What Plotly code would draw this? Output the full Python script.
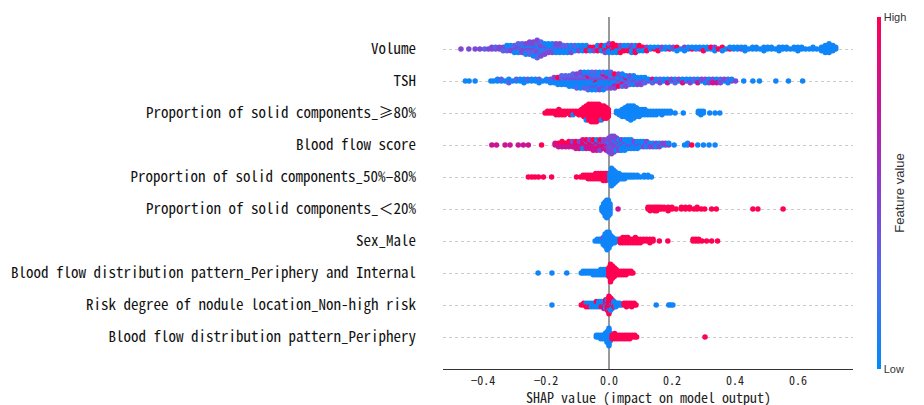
import math
import plotly.graph_objects as go

# ---------------- data ----------------
features = [
    "Volume",
    "TSH",
    "Proportion of solid components_≥80%",
    "Blood flow score",
    "Proportion of solid components_50%–80%",
    "Proportion of solid components_＜20%",
    "Sex_Male",
    "Blood flow distribution pattern_Periphery and Internal",
    "Risk degree of nodule location_Non-high risk",
    "Blood flow distribution pattern_Periphery",
]
x_title = "SHAP value (impact on model output)"

# feature-value code of each point: b=low ... r=high
code_fv = {"b": 0.05, "v": 0.3, "p": 0.45, "m": 0.78, "r": 1.0}

volume_x = [-0.470, -0.445, -0.425, -0.410, -0.395, -0.383, -0.372, -0.360, -0.348, -0.336,
            -0.324, -0.312, -0.300, -0.288, -0.276, -0.264, -0.252, -0.240, -0.228, -0.216,
            -0.204, -0.192, -0.180, -0.168, -0.156, -0.144, -0.132, -0.120, -0.108, -0.096,
            -0.084, -0.072, -0.060, -0.048, -0.036, -0.024, -0.012, 0.000, 0.012, 0.024,
            0.036, 0.048, 0.060, 0.072, 0.084, 0.096, 0.108, 0.120, 0.132, 0.144,
            0.156, 0.168, 0.180, 0.192, 0.204, 0.216, 0.228, 0.240, 0.252, 0.264,
            0.276, 0.288, 0.300, 0.312, 0.324, 0.336, 0.348, 0.360, 0.372, 0.384,
            0.396, 0.408, 0.420, 0.432, 0.444, 0.456, 0.468, 0.480, 0.492, 0.504,
            0.516, 0.528, 0.540, 0.552, 0.564, 0.576, 0.588, 0.600, 0.612, 0.624,
            0.636, 0.648, 0.660, 0.675, 0.687, 0.699, 0.711, 0.720]
volume_pts = ["p", "p", "p", "p", "v", "p", "pp", "pv", "pp", "ppv",
              "ppvb", "pvpb", "pvpvb", "ppvpbv", "pvpbpv", "pvpbvpb",
              "pvpbvpvp", "pvpbvpvpb", "ppvbpvpvbpv", "pvbpvpbvp",
              "pvbpvbp", "pbvbpb", "pbvbpb", "bpbvbp", "bpbvbp", "bpbvb",
              "bpbvb", "bpbbp", "bpbv", "bbpb",
              "bpbb", "bprb", "brb", "brp", "rbrb", "brbr", "rbrbp", "rrbrbp", "rbrrbr", "rrbrb",
              "brbpr", "rbrb", "rbrb", "brbpb", "rbmbr", "brbr", "brb", "bpr", "bb", "rb",
              "rbr", "bp", "bb", "rb", "bp", "brb", "b", "bpb", "bb", "rb",
              "bb", "pb", "rbr", "bb", "br", "bpb", "r", "brb", "b", "rb",
              "bb", "bb", "pb", "bbb", "b", "bb", "bb", "b", "bbb", "bb",
              "bb", "b", "bbb", "bb", "bb", "b", "bb", "bbb", "bb", "b",
              "b", "bb", "b", "bbb", "bbbbb", "bbbbbb", "bbbb", "bb"]

tsh_x = [-0.456, -0.444, -0.425, -0.375, -0.366, -0.354, -0.342, -0.330, -0.318, -0.306,
         -0.294, -0.282, -0.270, -0.258, -0.246, -0.234, -0.222, -0.210, -0.198, -0.186,
         -0.174, -0.162, -0.150, -0.138, -0.126, -0.114, -0.102, -0.090, -0.078, -0.066,
         -0.054, -0.042, -0.030, -0.018, -0.006, 0.006, 0.018, 0.030, 0.042, 0.054,
         0.066, 0.078, 0.090, 0.102, 0.114, 0.126, 0.138, 0.150, 0.162, 0.174,
         0.186, 0.198, 0.210, 0.222, 0.234, 0.246, 0.258, 0.270, 0.282, 0.294,
         0.306, 0.318, 0.330, 0.342, 0.354, 0.366, 0.378, 0.390, 0.402, 0.428,
         0.457, 0.478, 0.530, 0.570, 0.615]
tsh_pts = ["b", "b", "b", "b", "b", "bb", "bv", "b", "bbv", "b",
           "bv", "bb", "bbb", "bv", "bb", "bb", "bvb", "b", "bb", "bvb",
           "bvbp", "bvbrb", "bpbvbv", "bvbpbv", "bvbpbvb", "bvbpbvbv", "bvbpbvbpv",
           "bvbpbvbvbp", "bvbpbvbpvb", "bvbpbrbpvbv",
           "bvbpbvbbpvb", "bvrpbvbbpvb", "bvbpbvbbvbp", "bvbpbvbrpvb",
           "bvbpbmbpvb", "rvbpbvbbpv", "bvbpbvmrp", "vbpbvbrp", "bpvbrpvb", "vbpmvbp",
           "bpvbvp", "vbpvbb", "bpvbp", "vbpbp", "bpvb", "pb", "bmv", "pb", "bvp", "bb",
           "pbm", "bp", "mbv", "bp", "vbm", "pb", "mbp", "bv", "pbm", "bp",
           "mpb", "vbp", "rpm", "pbm", "pvp", "bp", "pvb", "pb", "p", "b",
           "b", "b", "b", "b", "b"]

solid80_x = [-0.203, -0.195, -0.186, -0.177, -0.168, -0.159, -0.150, -0.141, -0.132, -0.123,
             -0.114, -0.105, -0.096, -0.087, -0.080, -0.072, -0.064, -0.056, -0.048, -0.040,
             -0.032, -0.024, -0.016, -0.008, -0.002, 0.024, 0.033, 0.042, 0.051, 0.060,
             0.069, 0.078, 0.087, 0.096, 0.105, 0.114, 0.123, 0.132, 0.141, 0.150,
             0.159, 0.168, 0.177, 0.186, 0.195, 0.210, 0.236, 0.284, 0.292, 0.300,
             0.320, 0.337, 0.352]
solid80_pts = ["r", "rr", "rr", "rr", "rrr", "rrrr", "rrr", "rrr", "rr", "rrr",
               "rrb", "rr", "rrr", "rrrr", "rrrrrr", "rrrrrrrrb", "rrrrrrrrrr",
               "rrrrrrrrrrr", "rrrrrrrrrrr", "rrrrrrrrrrr",
               "rrrrrrrrrr", "rrrrrrrrb", "rrrrrrrr", "rrrrrrr", "rrrrr",
               "bb", "bbb", "bbbbb", "bbbbbb", "bbbbbbbb",
               "bbbbbbbbb", "bbbbbbbb", "bbbbbb", "bbbbb", "bbbb", "bbbb", "bbb",
               "bbb", "bbb", "bbb", "bb", "bbb", "bb", "bb", "bb", "b", "b", "bb", "bbb", "bb",
               "b", "b", "b"]

bloodscore_x = [-0.372, -0.357, -0.330, -0.314, -0.288, -0.272, -0.256, -0.214, -0.171, -0.160,
                -0.149, -0.138, -0.127, -0.116, -0.105, -0.094, -0.083, -0.072, -0.061, -0.050,
                -0.039, -0.028, -0.017, -0.008, 0.000, 0.008, 0.016, 0.024, 0.032, 0.040,
                0.050, 0.060, 0.070, 0.080, 0.090, 0.100, 0.110, 0.120, 0.130, 0.140,
                0.150, 0.160, 0.170, 0.180, 0.190, 0.207, 0.240, 0.250, 0.263, 0.282,
                0.300, 0.318, 0.337]
bloodscore_pts = ["m", "m", "m", "m", "m", "m", "m", "r", "mm", "mrm",
                  "rmmr", "mrm", "rmmr", "mrmp", "rmmrm", "mrmpm", "rmmrbm", "mrmpmr", "rmmrmp",
                  "mrmpmrm", "rmpmrbm", "mrmpmrp", "pmrpmp", "ppmpppm", "pppbppppp",
                  "ppppbpppppp", "pppppbpppp", "pppbppbp", "bpbppbp", "bbpbbpb",
                  "bbbpbbb", "bbpbbb", "bbpbbb", "bbbpb", "bbpbb", "bpbb", "bbpb", "bpbp", "bbp", "pbp",
                  "bpb", "pbp", "bp", "pp", "pb", "b", "b", "bb", "r", "b",
                  "b", "b", "b"]

solid50_x = [-0.256, -0.245, -0.235, -0.224, -0.208, -0.182, -0.103, -0.090, -0.082, -0.074,
             -0.066, -0.058, -0.050, -0.042, -0.034, -0.026, -0.018, -0.010, -0.003, 0.003,
             0.008, 0.014, 0.020, 0.026, 0.032, 0.038, 0.044, 0.050, 0.056, 0.064,
             0.072, 0.080, 0.090, 0.100, 0.112, 0.124, 0.135]
solid50_pts = ["r", "r", "r", "r", "r", "r", "r", "r", "rr", "rr",
               "rrr", "rrr", "rrr", "rrrr", "rrrr", "rrrr", "rrrrr", "rrrrr", "rrrr",
               "bbbbb", "bbbbbbbbbbb", "bbbbbbbbb", "bbbbbbb", "bbbbb",
               "bbbb", "bbb", "bbb", "bbb", "bb", "bb", "bb", "bb", "bb", "b", "bb", "bb", "b"]

solid20_x = [-0.022, -0.017, -0.012, -0.007, -0.002, 0.003, 0.029, 0.124, 0.131, 0.138,
             0.145, 0.152, 0.159, 0.166, 0.175, 0.188, 0.200, 0.213, 0.230, 0.243,
             0.256, 0.270, 0.280, 0.293, 0.304, 0.326, 0.341, 0.457, 0.473, 0.553]
solid20_pts = ["bbb", "bbbbbb", "bbbbbbbbb", "bbbbbbbbbbb", "bbbbbbbbbb",
               "bbbbbbb", "m", "rr", "rrr", "rr",
               "rrr", "rrr", "rr", "rr", "rr", "rrr", "rr", "r", "rr", "rr",
               "rr", "r", "rr", "r", "r", "r", "r", "r", "r", "r"]

sex_x = [-0.044, -0.037, -0.030, -0.024, -0.018, -0.012, -0.006, 0.000, 0.006, 0.012,
         0.018, 0.024, 0.030, 0.036, 0.044, 0.052, 0.060, 0.068, 0.076, 0.084,
         0.092, 0.100, 0.110, 0.120, 0.130, 0.140, 0.160, 0.187, 0.267, 0.276,
         0.285, 0.295, 0.310, 0.326, 0.345]
sex_pts = ["b", "bb", "bb", "bb", "bbbpb", "bbbbbbbb", "bbbbbbbbbbb",
           "bbbbbbbbbb", "bbbbbb", "bbbb",
           "bbb", "bb", "bb", "rrr", "rrrr", "rrrr", "rrrr", "rrr", "rrr", "rrrr",
           "rrr", "rrr", "rr", "rr", "rrr", "rr", "r", "r", "rr", "rr",
           "rr", "r", "r", "r", "r"]

bfdp_pi_x = [-0.225, -0.181, -0.134, -0.088, -0.082, -0.074, -0.066, -0.058, -0.050, -0.042,
             -0.034, -0.026, -0.018, -0.010, -0.004, 0.000, 0.005, 0.011, 0.017, 0.023,
             0.030, 0.038, 0.046, 0.054, 0.062, 0.070, 0.076]
bfdp_pi_pts = ["b", "b", "b", "b", "bb", "bb", "bb", "bb", "bbb", "bbb",
               "bbb", "bbbb", "bbbb", "bbbb", "bbbb", "rrrrrr", "rrrrrrrrrrr",
               "rrrrrrrr", "rrrrrr", "rrrr",
               "rrr", "rrr", "rrr", "rrr", "rr", "rr", "r"]

risk_x = [-0.181, -0.088, -0.080, -0.072, -0.064, -0.056, -0.048, -0.040, -0.032, -0.024,
          -0.016, -0.010, -0.005, 0.000, 0.005, 0.010, 0.016, 0.022, 0.028, 0.034,
          0.040, 0.048, 0.056, 0.064, 0.072, 0.080, 0.086, 0.150, 0.190, 0.196,
          0.203]
risk_pts = ["b", "r", "rr", "rbr", "bbr", "bbb", "bbb", "bbbr", "bbbb", "bbrb",
            "bbrbm", "brbmbr", "rbrmrbr", "rrmrrrbrrrr", "rrmrrrbr", "rbrrbr",
            "bbrb", "bbb", "bb", "bb",
            "b", "rr", "rrr", "rr", "rrr", "rr", "r", "b", "b", "b",
            "b"]

bfdp_p_x = [-0.040, -0.033, -0.026, -0.019, -0.012, -0.006, 0.000, 0.005, 0.010, 0.018,
            0.026, 0.034, 0.042, 0.050, 0.058, 0.066, 0.074, 0.082, 0.088, 0.305]
bfdp_p_pts = ["bb", "bb", "bbb", "bbb", "bbbb", "bbbbbbb", "bbbbbbbbbbb",
              "bbbbb", "rrr", "rrrr",
              "rrr", "rrr", "rrr", "rrr", "rrr", "rrr", "rr", "rr", "r", "r"]

rows_x = [volume_x, tsh_x, solid80_x, bloodscore_x, solid50_x, solid20_x,
          sex_x, bfdp_pi_x, risk_x, bfdp_p_x]
rows_pts = [volume_pts, tsh_pts, solid80_pts, bloodscore_pts, solid50_pts, solid20_pts,
            sex_pts, bfdp_pi_pts, risk_pts, bfdp_p_pts]

x_tickvals = [-0.4, -0.2, 0.0, 0.2, 0.4, 0.6]
x_ticktext = ["−0.4", "−0.2", "0.0", "0.2", "0.4", "0.6"]
colorbar_ticks = ["Low", "High"]

# ---------------- beeswarm layout (SHAP-style stacking) ----------------
ROW_H = 0.36
n_rows = len(features)
px_x, px_y, px_c = [], [], []
for i, (rx, rp) in enumerate(zip(rows_x, rows_pts)):
    ypos = n_rows - 1 - i
    maxn = max(len(s) for s in rp)
    maxl = math.ceil((maxn - 1) / 2)
    unit = 0.9 * ROW_H / (maxl + 1)
    for x, s in zip(rx, rp):
        for layer, ch in enumerate(s):
            off = math.ceil(layer / 2) * (1 if layer % 2 else -1)
            px_x.append(x)
            px_y.append(ypos + off * unit)
            px_c.append(code_fv[ch])

cscale = [[0.0, "#008bfb"], [0.25, "#4b6cf0"], [0.5, "#8a3fd0"],
          [0.75, "#c4179c"], [1.0, "#ff0052"]]

mono = "Noto Sans Mono CJK SC, DejaVu Sans Mono, monospace"
sans = "Liberation Sans, Arial, sans-serif"

fig = go.Figure()
fig.add_trace(go.Scatter(
    x=px_x, y=px_y, mode="markers",
    marker=dict(size=5.5, color=px_c, colorscale=cscale, cmin=0, cmax=1,
                line=dict(width=0), opacity=1, showscale=True,
                colorbar=dict(thickness=4, len=1, lenmode="fraction", y=0.5, yanchor="middle",
                              x=1.0585, xanchor="left", xpad=0, ypad=0, outlinewidth=0,
                              tickvals=[0, 1], ticktext=colorbar_ticks, ticks="",
                              tickfont=dict(family=sans, size=11, color="#333333"),
                              title=dict(text="Feature value", side="right",
                                         font=dict(family=sans, size=13, color="#333333")))),
    hoverinfo="skip", showlegend=False))

# x-axis title placed just below the tick labels
fig.add_annotation(text=x_title, xref="paper", yref="paper", x=0.5, y=-0.048,
                   xanchor="center", yanchor="top", showarrow=False, borderpad=0,
                   font=dict(family=mono, size=14, color="#222222"))

# the page body has an 8px margin, so the figure is drawn 8px right and down
fig.update_layout(
    width=916, height=397, template="none",
    margin=dict(l=435, r=71, t=9, b=36, autoexpand=False),
    paper_bgcolor="white", plot_bgcolor="white",
    xaxis=dict(range=[-0.527, 0.775], tickvals=x_tickvals, ticktext=x_ticktext,
               showgrid=False, zeroline=True, zerolinecolor="#999999", zerolinewidth=1.5,
               showline=True, linecolor="#333333", linewidth=1, mirror=False,
               ticks="outside", ticklen=1, tickcolor="rgba(0,0,0,0)",
               tickfont=dict(family=mono, size=12, color="#222222"),
               automargin=False, fixedrange=True),
    yaxis=dict(range=[-1, 10], tickvals=list(range(n_rows - 1, -1, -1)), ticktext=features,
               showgrid=True, gridcolor="#cccccc", griddash="dot", gridwidth=1,
               zeroline=False, showline=False, ticks="", ticklabelstandoff=26,
               tickfont=dict(family=mono, size=15, color="#111111"),
               automargin=False, fixedrange=True),
)

fig.write_html("out.html")
